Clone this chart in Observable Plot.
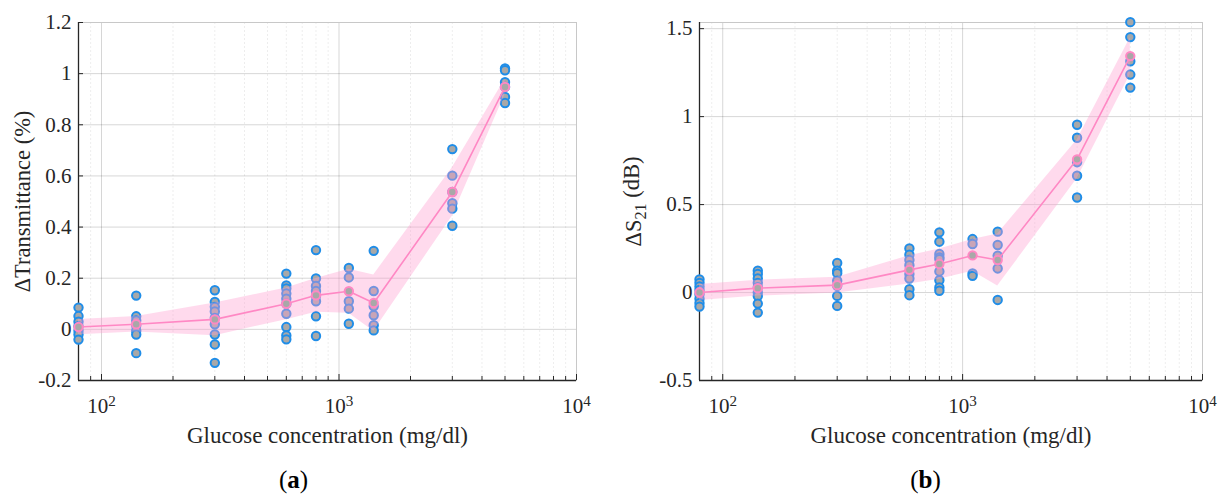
<!DOCTYPE html>
<html><head><meta charset="utf-8">
<script src="https://cdn.jsdelivr.net/npm/d3@7"></script>
<script src="https://cdn.jsdelivr.net/npm/@observablehq/plot@0.6"></script>
<style>
body{margin:0;background:#fff;}
#wrap{position:relative;width:1225px;height:495px;overflow:hidden;}
#a,#b{position:absolute;top:0;}
#a{left:0;} #b{left:612px;}
svg, svg text{font-family:"Liberation Serif", "Times New Roman", serif !important;}
</style></head>
<body><div id="wrap"><div id="a"></div><div id="b"></div></div>
<script>
// Glucose concentrations (mg/dl)
const conc = [80, 140, 300, 600, 800, 1100, 1400, 3000, 5000];
const xTicks = [100, 1000, 10000];
const xTickLabels = ["10^2", "10^3", "10^4"];
const xMinor = [90, 200, 300, 400, 500, 600, 700, 800, 900, 2000, 3000, 4000, 5000, 6000, 7000, 8000, 9000];

// (a) ΔTransmittance (%)
const transRaw = [
  [0.085, 0.052, 0.03, 0.012, -0.005, -0.02, -0.04],
  [0.132, 0.051, 0.035, 0.015, -0.005, -0.02, -0.093],
  [0.153, 0.107, 0.088, 0.07, 0.045, 0.02, -0.02, -0.059, -0.131],
  [0.218, 0.172, 0.16, 0.14, 0.12, 0.1, 0.061, 0.009, -0.024, -0.039],
  [0.31, 0.199, 0.17, 0.15, 0.13, 0.11, 0.051, -0.026],
  [0.24, 0.203, 0.11, 0.081, 0.022],
  [0.307, 0.15, 0.09, 0.055, 0.016, -0.004],
  [0.705, 0.601, 0.537, 0.493, 0.472, 0.405],
  [1.02, 1.013, 0.967, 0.948, 0.909, 0.885]
];
const transMean = [0.009, 0.02, 0.039, 0.1, 0.133, 0.149, 0.103, 0.537, 0.948];
const transSpread = [0.03, 0.03, 0.064, 0.062, 0.066, 0.086, 0.11, 0.095, 0.03];
const transTicks = [-0.2, 0, 0.2, 0.4, 0.6, 0.8, 1, 1.2];

// (b) ΔS21 (dB)
const s21Raw = [
  [0.075, 0.055, 0.035, 0.015, -0.01, -0.035, -0.06, -0.08],
  [0.124, 0.105, 0.08, 0.055, 0.03, 0.0, -0.02, -0.063, -0.114],
  [0.168, 0.124, 0.11, 0.067, 0.038, -0.019, -0.076],
  [0.251, 0.215, 0.185, 0.155, 0.105, 0.08, 0.019, -0.015],
  [0.342, 0.289, 0.219, 0.2, 0.19, 0.12, 0.07, 0.029, 0.01],
  [0.304, 0.276, 0.108, 0.095],
  [0.346, 0.27, 0.209, 0.137, -0.042],
  [0.954, 0.88, 0.741, 0.664, 0.54],
  [1.537, 1.452, 1.315, 1.239, 1.165]
];
const s21Mean = [0, 0.025, 0.042, 0.129, 0.162, 0.211, 0.185, 0.757, 1.344];
const s21Spread = [0.045, 0.045, 0.045, 0.08, 0.086, 0.09, 0.148, 0.11, 0.105];
const s21Ticks = [-0.5, 0, 0.5, 1, 1.5];

const BLUE = "#1f8de8", GRAY = "#a8a8a8", PINK = "#ff88c4", BAND = "#ff9fcf";
const FONT = "'Liberation Serif', serif";

function panel(o) {
  const pts = conc.flatMap((c, i) => o.raw[i].map(v => ({x: c, y: v})));
  const summary = conc.map((c, i) => ({x: c, m: o.mean[i], lo: o.mean[i] - o.spread[i], hi: o.mean[i] + o.spread[i]}));
  const W = o.width, ml = o.marginLeft, mr = o.marginRight;
  const frameCx = ml + (W - ml - mr) / 2;
  const svg = Plot.plot({
    width: W, height: 495,
    marginLeft: ml, marginRight: mr, marginTop: 22, marginBottom: 115,
    style: {fontFamily: FONT, fontSize: "21px", color: "#262626", background: "#fff", overflow: "visible"},
    x: {type: "log", domain: [80, 10000]},
    y: {domain: o.yDomain},
    marks: [
      Plot.gridX({ticks: xMinor, stroke: "#000", strokeOpacity: 0.07, strokeDasharray: "2,2"}),
      Plot.gridX({ticks: [100, 1000], stroke: "#000", strokeOpacity: 0.16}),
      Plot.gridY({ticks: o.yTicks, stroke: "#000", strokeOpacity: 0.16}),
      Plot.frame({stroke: "#c8c8c8"}),
      Plot.ruleX([80], {stroke: "#262626", strokeWidth: 1.3}),
      Plot.ruleY([o.yDomain[0]], {stroke: "#262626", strokeWidth: 1.3}),
      Plot.axisX({ticks: xTicks, tickSize: -6, tickPadding: 24, label: null, fontSize: 21,
        tickFormat: d => xTickLabels[xTicks.findIndex(t => Math.abs(t - d) < 1e-6 * t)], stroke: "#262626"}),
      Plot.axisX({ticks: xMinor, tickSize: -4, tickFormat: () => "", label: null, stroke: "#262626"}),
      Plot.axisY({ticks: o.yTicks, tickSize: -5, tickPadding: 12, fontSize: 21, tickFormat: d => String(+d.toFixed(1)), stroke: "#262626", label: null}),
      Plot.dot(pts, {x: "x", y: "y", r: 4.2, fill: GRAY, stroke: BLUE, strokeWidth: 2}),
      Plot.areaY(summary, {x: "x", y1: "lo", y2: "hi", fill: BAND, fillOpacity: 0.38}),
      Plot.lineY(summary, {x: "x", y: "m", stroke: PINK, strokeWidth: 1.6}),
      Plot.dot(summary, {x: "x", y: "m", r: 4.2, fill: GRAY, stroke: PINK, strokeWidth: 2}),
      Plot.text([o.xlabel], {frameAnchor: "bottom", dy: 55, lineAnchor: "middle", textAnchor: "middle", fontSize: 23, fill: "#262626", text: d => d}),
      Plot.text([o.ylabel], {frameAnchor: "left", dx: o.ylabelDx, rotate: -90, textAnchor: "middle", lineAnchor: "middle", fontSize: 22.5, fill: "#262626", text: d => d}),
      Plot.text([o.caption], {frameAnchor: "bottom", dy: 99, lineAnchor: "middle", textAnchor: "middle", dx: o.captionX - frameCx, fontSize: 25, fill: "#000", text: d => d})
    ]
  });
  const s = d3.select(svg);
  s.selectAll("text").each(function() {
    const t = this.textContent;
    const m = /^10\^(\d)$/.exec(t);
    if (m) {
      const el = d3.select(this); el.text("");
      el.append("tspan").text("10");
      el.append("tspan").attr("dy", "-0.5em").attr("font-size", "0.72em").text(m[1]);
    } else if (t === o.ylabel && o.ylabelSub) {
      const el = d3.select(this); el.text("");
      el.append("tspan").text("ΔS");
      el.append("tspan").attr("dy", "0.35em").attr("font-size", "0.72em").text("21");
      el.append("tspan").attr("dy", "-0.35em").text(" (dB)");
    } else if (t === o.caption) {
      const el = d3.select(this); el.text("");
      el.append("tspan").text("(");
      el.append("tspan").attr("font-weight", "bold").text(o.caption.slice(1, -1));
      el.append("tspan").text(")");
    }
  });
  return svg;
}

document.getElementById("a").append(panel({
  raw: transRaw, mean: transMean, spread: transSpread,
  yDomain: [-0.2, 1.2], yTicks: transTicks,
  width: 612, marginLeft: 78, marginRight: 36,
  xlabel: "Glucose concentration (mg/dl)", ylabel: "ΔTransmittance (%)", ylabelDx: -56,
  caption: "(a)", captionX: 293
}));
document.getElementById("b").append(panel({
  raw: s21Raw, mean: s21Mean, spread: s21Spread,
  yDomain: [-0.5, 1.535], yTicks: s21Ticks,
  width: 613, marginLeft: 87, marginRight: 23,
  xlabel: "Glucose concentration (mg/dl)", ylabel: "ΔS21 (dB)", ylabelSub: true, ylabelDx: -66,
  caption: "(b)", captionX: 925 - 612
}));
</script></body></html>
